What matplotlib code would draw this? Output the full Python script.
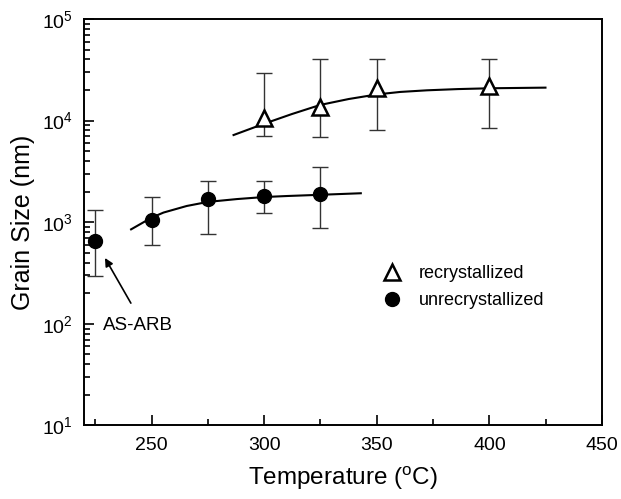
"""
    grain size vs annealing temperature
"""

import matplotlib
matplotlib.use("Agg")
import matplotlib.pyplot as plt
from matplotlib.ticker import MultipleLocator, LogLocator, NullFormatter

plt.rcParams['font.family'] = ['Liberation Sans', 'DejaVu Sans']
plt.rcParams['mathtext.fontset'] = 'custom'
plt.rcParams['mathtext.rm'] = 'Liberation Sans'
plt.rcParams['mathtext.it'] = 'Liberation Sans:italic'
plt.rcParams['mathtext.bf'] = 'Liberation Sans:bold'

# recrystallized grains (triangles)
rec_temp = [300, 325, 350, 400]
rec_size = [10500, 13500, 20800, 21900]
rec_err_hi = [29700, 40100, 40100, 40300]
rec_err_lo = [7050, 6950, 8070, 8400]

# unrecrystallized grains (circles), first point is the as-ARB state
unrec_temp = [225, 250, 275, 300, 325]
unrec_size = [650, 1050, 1680, 1810, 1900]
unrec_err_hi = [1320, 1760, 2550, 2550, 3475]
unrec_err_lo = [295, 597, 766, 1225, 871]

# fitted curves
rec_fit_temp = [286.4, 299.7, 312.3, 324.9, 337.5, 350.1, 360.4, 372.3, 386.0, 400.4, 424.9]
rec_fit_size = [7210, 9270, 11600, 14260, 16300, 18100, 19140, 19860, 20420, 20800, 21100]
unrec_fit_temp = [240.9, 250.0, 255.3, 265.6, 275.0, 287.9, 300.0, 310.1, 324.9, 342.9]
unrec_fit_size = [851, 1109, 1245, 1445, 1585, 1690, 1770, 1811, 1862, 1928]

x_ticks = [250, 300, 350, 400, 450]


def main():
    fig = plt.figure(figsize=(6.21, 4.99), dpi=100)
    ax = fig.add_axes([0.1353, 0.1473, 0.8341, 0.8147])

    ax.plot(rec_fit_temp, rec_fit_size, color='black', lw=1.5, zorder=2)
    ax.plot(unrec_fit_temp, unrec_fit_size, color='black', lw=1.5, zorder=2)

    rec_yerr = [[s - lo for s, lo in zip(rec_size, rec_err_lo)],
                [hi - s for s, hi in zip(rec_size, rec_err_hi)]]
    unrec_yerr = [[s - lo for s, lo in zip(unrec_size, unrec_err_lo)],
                  [hi - s for s, hi in zip(unrec_size, unrec_err_hi)]]

    ax.errorbar(rec_temp, rec_size, yerr=rec_yerr, fmt='none', ecolor='#333333',
                elinewidth=1.0, capsize=5.5, capthick=1.0, zorder=1)
    ax.errorbar(unrec_temp, unrec_size, yerr=unrec_yerr, fmt='none', ecolor='#333333',
                elinewidth=1.0, capsize=5.5, capthick=1.0, zorder=1)

    ax.plot(rec_temp, rec_size, linestyle='none', marker='^', markersize=11,
            markerfacecolor='white', markeredgecolor='black', markeredgewidth=1.8,
            label='recrystallized', zorder=3)
    ax.plot(unrec_temp, unrec_size, linestyle='none', marker='o', markersize=10,
            markerfacecolor='black', markeredgecolor='black',
            label='unrecrystallized', zorder=3)

    ax.annotate('AS-ARB', xy=(229.3, 445), xytext=(228.4, 97),
                fontsize=13.5, va='center', ha='left')
    ax.annotate('', xy=(229.3, 445), xytext=(240.8, 160),
                arrowprops=dict(arrowstyle='-|>', color='black', lw=1.2,
                                mutation_scale=12, shrinkA=0, shrinkB=0))

    ax.set_yscale('log')
    ax.set_xlim(220, 450)
    ax.set_ylim(10, 1e5)
    ax.set_xticks(x_ticks)
    ax.xaxis.set_minor_locator(MultipleLocator(25))
    ax.yaxis.set_major_locator(LogLocator(base=10, numticks=10))
    ax.yaxis.set_minor_locator(LogLocator(base=10, subs=range(2, 10), numticks=10))
    ax.yaxis.set_minor_formatter(NullFormatter())

    ax.tick_params(which='both', direction='in', top=False, right=False,
                   labelsize=14, width=1.2)
    ax.tick_params(which='major', length=7, pad=8)
    ax.tick_params(which='minor', length=4)
    for s in ax.spines.values():
        s.set_linewidth(1.4)

    ax.set_xlabel('Temperature ($^{\\mathrm{o}}$C)', fontsize=17.5, labelpad=8)
    ax.set_ylabel('Grain Size (nm)', fontsize=18, labelpad=5)

    ax.legend(loc='center left', bbox_to_anchor=(0.56, 0.34), frameon=False,
              fontsize=13, handlelength=1.0, handletextpad=1.0, labelspacing=0.55,
              borderpad=0)

    fig.savefig('out.png', dpi=100)


if __name__ == "__main__":
    main()
